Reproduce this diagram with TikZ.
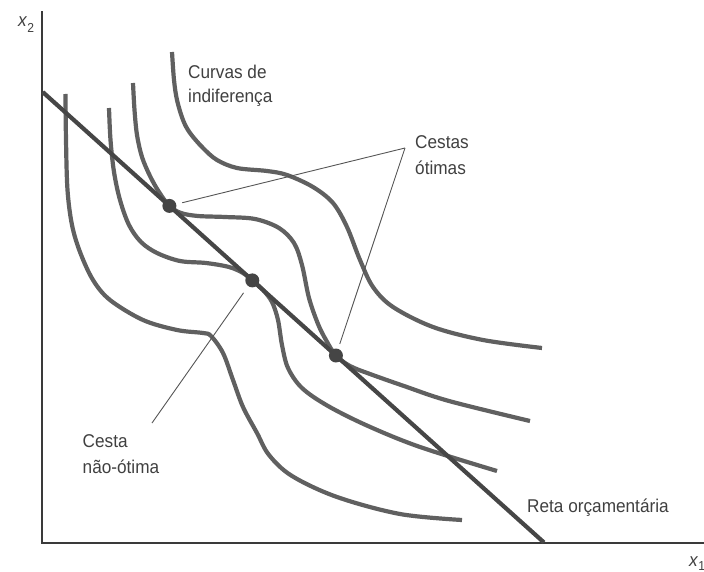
\documentclass[tikz,border=0pt]{standalone}
\usepackage{fontspec}
\setmainfont{Liberation Sans}[FakeStretch=0.93]
\definecolor{curvegray}{HTML}{606060}
\definecolor{linegray}{HTML}{464646}
\definecolor{axisgray}{HTML}{3A3A3A}
\definecolor{leadgray}{HTML}{555555}
\definecolor{dotgray}{HTML}{454545}
\definecolor{txtgray}{HTML}{404040}
\tikzset{
  icurve/.style={draw=curvegray, line width=4.2pt, line join=round},
  budget/.style={draw=linegray, line width=4.2pt},
  axisline/.style={draw=axisgray, line width=2.5pt},
  leader/.style={draw=leadgray, line width=0.9pt},
  dotnode/.style={circle, fill=dotgray, inner sep=0pt, minimum size=14pt},
  lbl/.style={inner sep=0pt, anchor=base west, align=left, text=txtgray,
    font=\fontsize{18.5}{24.5}\selectfont},
}
\begin{document}
\begin{tikzpicture}[x=1pt,y=-1pt]
\useasboundingbox (0,0) rectangle (704,572);
% axes
\coordinate (ytop) at (42,11.5);
\coordinate (O) at (42,543);
\coordinate (xend) at (704,543);
\draw[axisline] (ytop) -- (O) -- (xend);
% indifference curves
\draw[icurve] plot[smooth, tension=0.55] coordinates {
 (65.5,94) (66,140) (67.5,190) (72,225) (80,252) (93,280) (110,300) (143,320)
 (177,330) (203,333) (211,336) (223,353) (233,380) (243,407) (257,433) (269,455)
 (292,476) (337,497) (400,514) (462,520)};
\draw[icurve] plot[smooth, tension=0.55] coordinates {
 (109,108) (110.5,140) (114,172) (120,200) (129,225) (141,242) (157,253) (180,261)
 (206,263) (229,267) (243,273) (252.3,280.4) (263,290) (272,302) (278,320) (282,345)
 (288,368) (302,388) (328,406) (368,426) (420,447) (497,471)};
\draw[icurve] plot[smooth, tension=0.55] coordinates {
 (133,83) (134.5,110) (137,135) (142,157) (150,176) (159,192) (169.4,205.9) (181,213)
 (198,216) (225,217) (255,219) (279,228) (294,243) (302,265) (309,298) (318,324)
 (326,340) (335.9,355.5) (350,366) (370,374) (404,386) (449,401) (530,421)};
\draw[icurve] plot[smooth, tension=0.55] coordinates {
 (172,52) (174,80) (177,100) (183,120) (190,133) (203,148) (217,160) (237,168)
 (267,171) (287,175) (313,187) (333,203) (347,227) (360,260) (373,287) (393,307)
 (433,327) (483,340) (542,348)};
% budget line
\coordinate (B0) at (42.7,92);
\coordinate (B1) at (544,542.5);
\draw[budget] (B0) -- (B1);
% dots
\node[dotnode] (d1) at (169.4,205.9) {};
\node[dotnode] (d2) at (252.3,280.4) {};
\node[dotnode] (d3) at (335.9,355.5) {};
% leaders
\coordinate (apex) at (405,148);
\coordinate (nlow) at (152,423);
\draw[leader, shorten >=6pt] (apex) -- (d1);
\draw[leader, shorten >=5pt] (apex) -- (d3);
\draw[leader, shorten >=8pt] (nlow) -- (d2);
% labels (anchor is the baseline of the last line)
\node[lbl, font=\fontsize{18.5}{23.5}\selectfont] (lcurvas) at (188,102.5) {Curvas de\\indiferença};
\node[lbl, font=\fontsize{18.5}{25.5}\selectfont] (lcestas) at (415,174.5) {Cestas\\ótimas};
\node[lbl, font=\fontsize{18.5}{25.3}\selectfont] (lnao) at (82.5,473) {Cesta\\não-ótima};
\node[lbl] (lreta) at (527,512) {Reta orçamentária};
\node[lbl] (lx2) at (18,27) {\textit{x}\raisebox{-6pt}{\fontsize{13}{13}\selectfont 2}};
\node[lbl] (lx1) at (689,566) {\textit{x}\raisebox{-4.5pt}{\fontsize{13}{13}\selectfont 1}};
\end{tikzpicture}
\end{document}
